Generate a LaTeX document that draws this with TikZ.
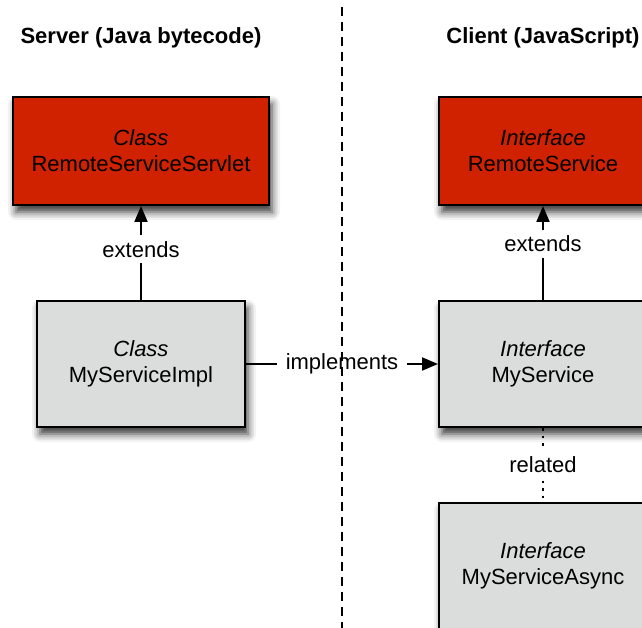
\documentclass[tikz,border=0pt]{standalone}
\usepackage{fontspec}
\setmainfont{Liberation Sans}
\usetikzlibrary{arrows.meta,shadows.blur}

\definecolor{boxred}{RGB}{208,34,0}
\definecolor{boxgray}{RGB}{219,220,220}

\begin{document}
\begin{tikzpicture}[x=1pt, y=-1pt,
  every node/.style={font=\fontsize{22}{26}\selectfont},
  umlbox/.style={draw=black, line width=2pt, align=center, inner sep=0pt,
    blur shadow={shadow xshift=3pt, shadow yshift=-7pt,
      shadow blur radius=8pt, shadow opacity=80}},
  redbox/.style={umlbox, fill=boxred, minimum height=108pt},
  graybox/.style={umlbox, fill=boxgray, minimum width=208pt, minimum height=126pt},
  heading/.style={font=\fontsize{22}{26}\selectfont\bfseries, anchor=base},
  link/.style={line width=2pt, -{Triangle[length=16pt, width=13pt]}},
  linklabel/.style={fill=white, inner xsep=9pt, inner ysep=6pt}]

  \clip (0,0) rectangle (642,628);

  %% Headings
  \node[heading] (server) at (141,44) {Server (Java bytecode)};
  \node[heading] (client) at (543,44) {Client (JavaScript)};

  %% Server side
  \node[redbox, minimum width=256pt] (servlet) at (141,151)
    {\textit{Class}\\RemoteServiceServlet};
  \node[graybox] (impl) at (141,364)
    {\textit{Class}\\MyServiceImpl};

  %% Client side
  \node[redbox, minimum width=208pt] (remote) at (543,151)
    {\textit{Interface}\\RemoteService};
  \node[graybox] (service) at (543,364)
    {\textit{Interface}\\MyService};
  \node[graybox] (async) at (543,566)
    {\textit{Interface}\\MyServiceAsync};

  %% Connectors
  \draw[link] (impl) -- node[linklabel, pos=.54] {extends} (servlet);
  \draw[link] (service) -- node[linklabel, pos=.6] {extends} (remote);
  \draw[link] (impl) -- node[linklabel] {implements} (service);
  \draw[line width=2pt, dash pattern=on 2.5pt off 5pt]
    (service) -- node[linklabel] {related} (async);

  %% Divider
  \draw[line width=1.8pt, dash pattern=on 9pt off 6pt] (342,7) -- (342,628);

\end{tikzpicture}
\end{document}
